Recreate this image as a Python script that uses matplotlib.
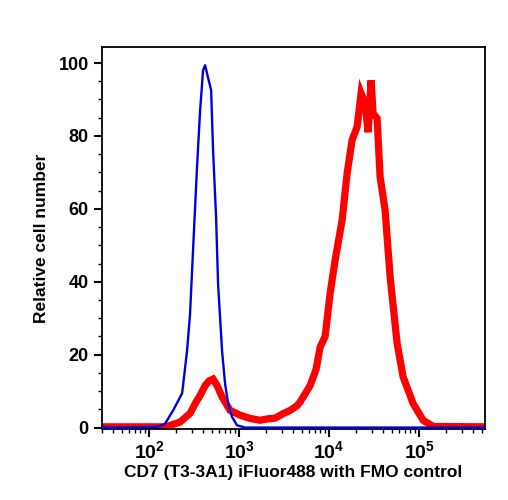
import matplotlib
matplotlib.use('Agg')
import matplotlib.pyplot as plt
from matplotlib.ticker import FixedLocator, LogLocator, NullFormatter

plt.rcParams['font.family'] = ['Liberation Sans', 'DejaVu Sans']
plt.rcParams['font.weight'] = 'bold'
plt.rcParams['mathtext.fontset'] = 'custom'
plt.rcParams['mathtext.rm'] = 'Liberation Sans:bold'
plt.rcParams['mathtext.bf'] = 'Liberation Sans:bold'

# FMO control (blue)
fmo_x = [30, 60, 125, 150, 185, 233, 264, 285, 308, 341, 369, 398, 419, 452,
         489, 514, 555, 584, 647, 699, 755, 835, 950, 1166, 550000]
fmo_y = [0, 0, 0.2, 1, 4.7, 9.4, 21, 31, 48.7, 71.5, 87, 98, 99.4, 96,
         92.6, 76, 57.8, 39.5, 21, 12, 6.6, 2.9, 0.6, 0, 0]

# CD7 stained (red)
cd7_x = [30, 151, 171, 221, 285, 333, 369, 419, 464, 514, 570, 647, 794, 1026,
         1325, 1711, 2100, 2512, 3080, 3690, 4410, 4760, 6150, 7170, 7940,
         9030, 10260, 11660, 13950, 15850, 18020, 20480, 22680, 25120, 27120,
         29290, 30820, 34150, 36870, 41890, 47610, 56980, 66430, 85770,
         110800, 143100, 550000]
cd7_y = [0.2, 0.2, 0.6, 1.5, 3.9, 7, 8.8, 11.5, 12.8, 13.3, 11.5, 8.4, 4.7, 3.4,
         2.5, 2.0, 2.4, 2.6, 3.8, 4.7, 6, 7, 11.5, 16, 22,
         25, 36.8, 45.9, 56.9, 69.7, 78.9, 82.5, 91.7, 88.9, 81,
         95.3, 86.2, 84.8, 68.8, 59.6, 41.4, 23.1, 13.9, 6.6,
         2, 0.3, 0.2]

y_ticks = [0, 20, 40, 60, 80, 100]
x_ticks = [1e2, 1e3, 1e4, 1e5]
x_ticklabels = [r'$10^{2}$', r'$10^{3}$', r'$10^{4}$', r'$10^{5}$']

fig = plt.figure(figsize=(5.08, 5.0), dpi=100)
ax = fig.add_axes([0.2008, 0.142, 0.754, 0.764])

ax.plot(cd7_x, cd7_y, color='#ff0000', lw=5.2, solid_joinstyle='miter', zorder=2)
ax.plot(fmo_x, fmo_y, color='#0000e0', lw=1.7, zorder=3)

ax.set_xscale('log')
ax.set_xlim(30, 5.4e5)
ax.set_ylim(-0.4, 104.4)

ax.set_xticks(x_ticks)
ax.set_xticklabels(x_ticklabels, fontsize=14)
ax.xaxis.set_minor_locator(LogLocator(base=10, subs=range(2, 10)))
ax.xaxis.set_minor_formatter(NullFormatter())

ax.set_yticks(y_ticks)
ax.set_yticklabels([str(v) for v in y_ticks], fontsize=13, fontweight='bold')
ax.yaxis.set_minor_locator(FixedLocator(range(5, 105, 5)))

ax.tick_params(axis='both', which='major', direction='out', length=6, width=1.5)
ax.tick_params(axis='both', which='minor', direction='out', length=3, width=1)
ax.tick_params(axis='x', which='major', pad=2)
for s in ax.spines.values():
    s.set_linewidth(1.3)

ax.set_xlabel('CD7 (T3-3A1) iFluor488 with FMO control', fontsize=12.5,
              fontweight='bold', labelpad=2)
ax.set_ylabel('Relative cell number', fontsize=12.5, fontweight='bold', labelpad=7)

fig.savefig('out.png', dpi=100)
